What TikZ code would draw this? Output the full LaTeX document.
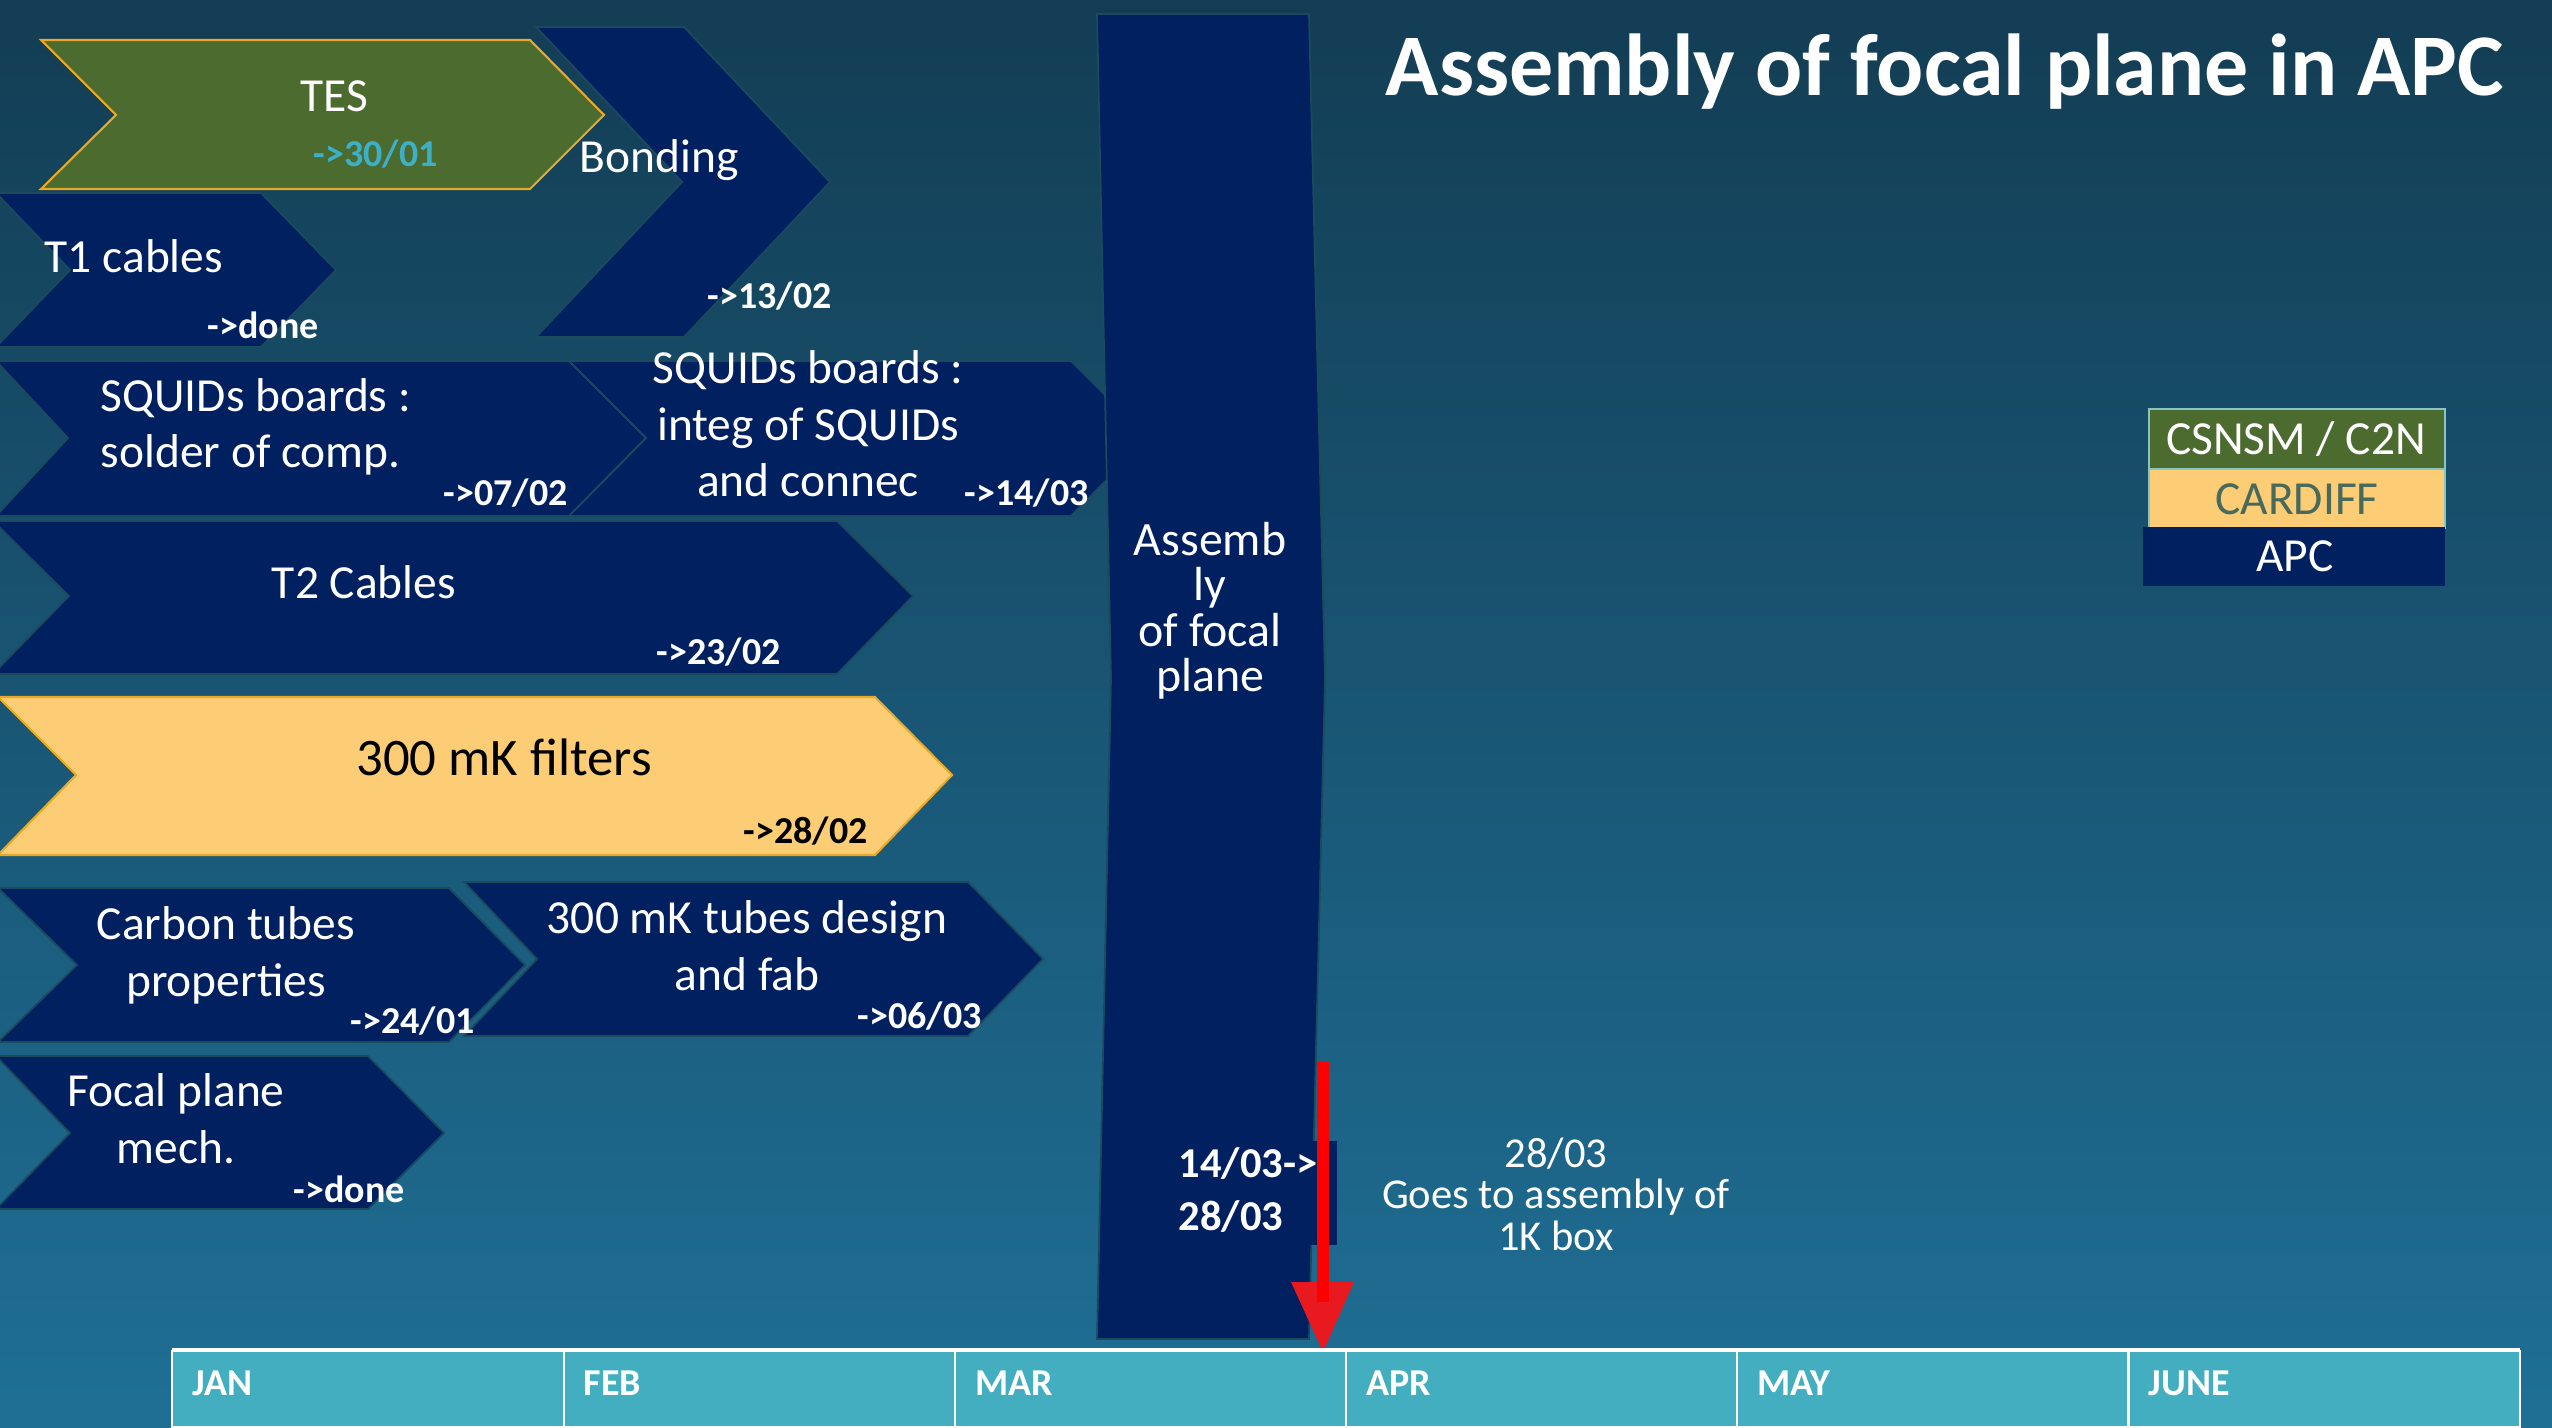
\documentclass[tikz,border=0pt]{standalone}
\usepackage{fontspec}
\setmainfont{Carlito}
\definecolor{navy}{HTML}{002060}
\definecolor{tesgreen}{HTML}{4B6B2F}
\definecolor{gold}{HTML}{FDCD76}
\definecolor{goldline}{HTML}{E9A825}
\definecolor{teallab}{HTML}{3DB0C8}
\definecolor{monthfill}{HTML}{42AEBF}
\definecolor{bgtop}{HTML}{133D54}
\definecolor{bgmid}{HTML}{164A63}
\definecolor{bgbot}{HTML}{1F6F95}
\definecolor{edge}{HTML}{1B4A5E}
\definecolor{cardifftext}{HTML}{476A5C}
\definecolor{legendline}{HTML}{86C5C0}
\definecolor{arrowred}{HTML}{E8191F}
\newcommand\mytightlines{\lineskiplimit=-20pt\relax}
\begin{document}
\begin{tikzpicture}[x=0.01cm,y=-0.01cm,
  navyshape/.style={fill=navy, draw=edge, line width=0.5pt},
  lab/.style={font=\fontsize{13.5}{16.2}\selectfont, text=white, inner sep=0pt},
  big/.style={font=\fontsize{15}{18}\selectfont, text=black, inner sep=0pt},
  datelab/.style={font=\fontsize{10.8}{13}\selectfont\bfseries, text=white, inner sep=0pt},
  asmlab/.style={font={\fontsize{13.6}{12.95}\selectfont\mytightlines}, text=white, inner sep=0pt},
  asmdate/.style={font={\fontsize{12.1}{14.8}\selectfont\bfseries\mytightlines}, text=white, inner sep=0pt},
  notelab/.style={font={\fontsize{12.1}{11.8}\selectfont\mytightlines}, text=white, inner sep=0pt},
  legendlab/.style={font=\fontsize{13.5}{16}\selectfont, inner sep=0pt},
  monthlab/.style={font=\fontsize{10.8}{13}\selectfont\bfseries, text=white, inner sep=0pt}]
\useasboundingbox (0,0) rectangle (2552,1428);
\shade[top color=bgtop, middle color=bgmid, bottom color=bgbot] (0,0) rectangle (2552,1428);
\begin{scope}
\clip (0,0) rectangle (2552,1428);
% Bonding
\path[navyshape] (536,27) -- (684,27) -- (830,182) -- (684,337) -- (536,337) -- (682,182) -- cycle;
% TES
\path[fill=tesgreen, draw=goldline, line width=0.6pt] (41,40) -- (530,40) -- (604,115) -- (530,189) -- (41,189) -- (116,115) -- cycle;
% T1 cables
\path[navyshape] (-4,193) -- (261,193) -- (336,270) -- (261,347) -- (-4,347) -- (70,270) -- cycle;
% SQUIDs solder
\path[navyshape] (-4,361) -- (569,361) -- (646,438) -- (569,516) -- (-4,516) -- (68,438) -- cycle;
% SQUIDs integ
\path[navyshape] (569,361) -- (1071,361) -- (1148,438) -- (1071,516) -- (569,516) -- (646,438) -- cycle;
% T2 cables
\path[navyshape] (-7,521) -- (837,521) -- (913,596) -- (837,674) -- (-7,674) -- (69,596) -- cycle;
% 300 mK filters
\path[fill=gold, draw=goldline, line width=0.6pt] (-2,697) -- (875,697) -- (952,775) -- (875,855) -- (-2,855) -- (76,775) -- cycle;
% Carbon tubes
\path[navyshape] (-2,888) -- (449,888) -- (525,965) -- (449,1042) -- (-2,1042) -- (77,965) -- cycle;
% 300 mK tubes
\path[navyshape] (464,882) -- (968,882) -- (1043,959) -- (968,1036) -- (464,1036) -- (537,959) -- cycle;
% Focal plane mech
\path[navyshape] (-4,1056) -- (368,1056) -- (444,1133) -- (368,1209) -- (-4,1209) -- (70,1133) -- cycle;
% Assembly box
\path[navyshape] (1097,14) -- (1309,14) -- (1325,678) -- (1309,1339) -- (1097,1339) -- (1111,678) -- cycle;
\fill[navy] (1290,1141) rectangle (1337,1245);
\end{scope}
% texts (multi-line nodes: base = baseline of the last line)
\node[lab, anchor=base] (tes) at (334,112) {TES};
\node[datelab, text=teallab, anchor=base west] (tesd) at (313,167) {->30/01};
\node[lab, anchor=base west] (bond) at (579,173) {Bonding};
\node[datelab, anchor=base west] (bondd) at (707,309) {->13/02};
\node[lab, anchor=base west] (t1) at (44,273) {T1 cables};
\node[datelab, anchor=base west] (t1d) at (207,339) {->done};
\node[lab, anchor=base west, align=left] (sq1) at (100,468) {SQUIDs boards :\\solder of comp.};
\node[datelab, anchor=base west] (sq1d) at (443,506) {->07/02};
\node[lab, anchor=base, align=center] (sq2) at (808,497) {SQUIDs boards :\\integ of SQUIDs\\and connec};
\node[datelab, anchor=base west] (sq2d) at (964,506) {->14/03};
\node[lab, anchor=base] (t2) at (364,599) {T2 Cables};
\node[datelab, anchor=base west] (t2d) at (656,665) {->23/02};
\node[big, anchor=base] (filt) at (504,775) {300 mK filters};
\node[datelab, text=black, anchor=base west] (filtd) at (743,843) {->28/02};
\node[lab, anchor=base, align=center] (carb) at (226,996) {Carbon tubes\\properties};
\node[datelab, anchor=base west] (carbd) at (350,1033) {->24/01};
\node[lab, anchor=base, align=center] (tube) at (747,990) {300 mK tubes design\\and fab};
\node[datelab, anchor=base west] (tubed) at (857,1028) {->06/03};
\node[lab, anchor=base, align=center] (focal) at (176,1163) {Focal plane\\mech.};
\node[datelab, anchor=base west] (focald) at (293,1202) {->done};
\node[asmlab, anchor=base, align=center] (asm) at (1210,692) {Assemb\\ly\\of focal\\plane};
\node[asmdate, anchor=base west, align=left] (asmd) at (1178,1230) {14/03->\\28/03};
\node[notelab, anchor=base, align=center] (note) at (1556,1250) {28/03\\Goes to assembly of\\1K box};
% red arrow
\coordinate (arrowtop) at (1323,1062);
\coordinate (arrowtip) at (1323,1352);
\fill[arrowred] (1291,1282) -- (1354,1282) -- (arrowtip) -- cycle;
\draw[red, line width=0.12cm] (arrowtop) -- (1323,1302);
% title
\node[font=\fontsize{25}{30}\selectfont\bfseries, text=white, anchor=base west, inner sep=0pt] (title) at (1385,96) {Assembly of focal plane in APC};
% legend
\path[fill=tesgreen, draw=legendline, line width=0.5pt] (2149,409) rectangle (2445,469);
\path[fill=gold, draw=legendline, line width=0.5pt] (2149,469) rectangle (2445,528);
\path[fill=navy] (2143,527) rectangle (2445,586);
\node[legendlab, text=white, anchor=base] (lg1) at (2296,455) {CSNSM / C2N};
\node[legendlab, text=cardifftext, anchor=base] (lg2) at (2297,515) {CARDIFF};
\node[legendlab, text=white, anchor=base] (lg3) at (2295,572) {APC};
% months
\path[fill=monthfill] (172,1351) rectangle (2520,1427);
\draw[white, line width=0.8pt] (172,1351) rectangle (2520,1427);
\draw[white, line width=1.2pt] (172,1350) -- (2520,1350);
\foreach \i/\m in {0/JAN,1/FEB,2/MAR,3/APR,4/MAY,5/JUNE}{
  \ifnum\i>0 \draw[white, line width=0.6pt] ({172.5+391.2*\i},1351) -- ({172.5+391.2*\i},1427); \fi
  \node[monthlab, anchor=base west] (month\i) at ({192+391.2*\i},1395) {\m};
}
\end{tikzpicture}
\end{document}
